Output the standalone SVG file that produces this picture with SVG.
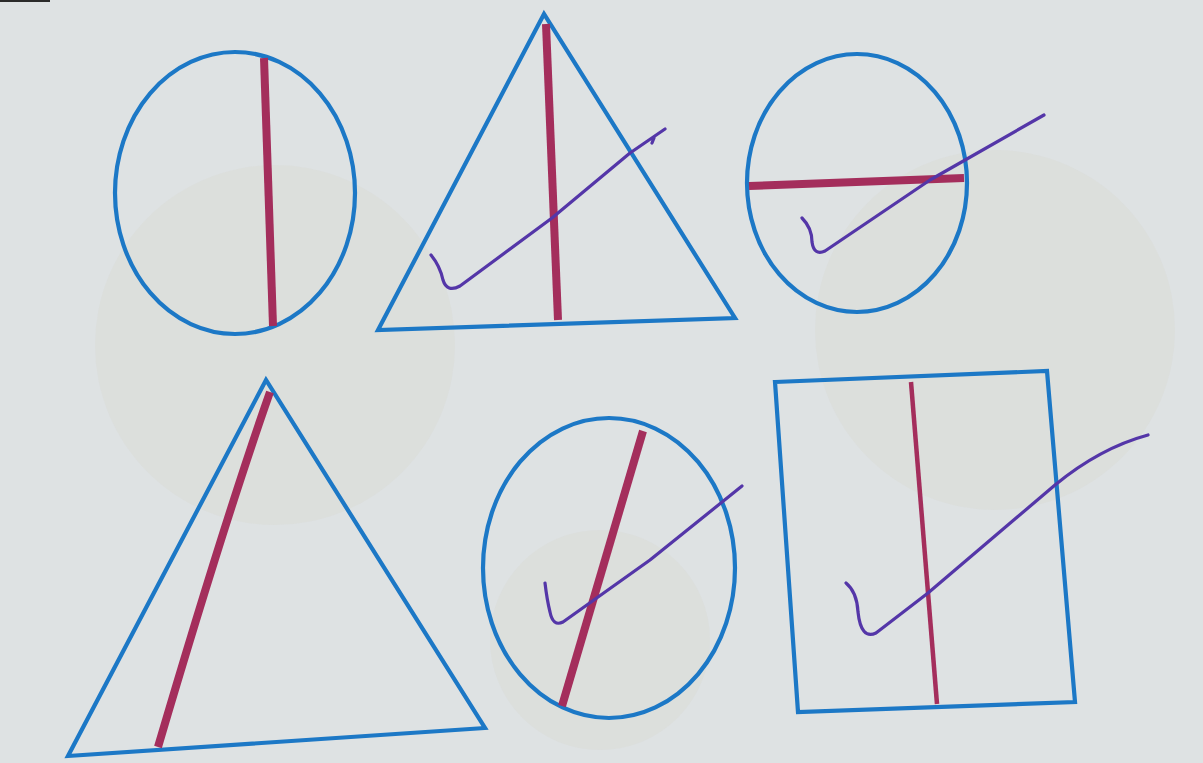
<svg xmlns="http://www.w3.org/2000/svg" width="1203" height="763" viewBox="0 0 1203 763">
<style>
.bg{fill:#dee2e3}
.ghost{fill:#d8d6cc;opacity:.3}
.shape{fill:none;stroke:#1c78c6;stroke-width:4.2;stroke-linejoin:miter}
.cut{fill:none;stroke:#a42e5c;stroke-width:8;stroke-linecap:butt}
.thin{stroke-width:4.5}
.tick{fill:none;stroke:#5436a8;stroke-width:3.2;stroke-linecap:round;stroke-linejoin:round}
</style>
<rect class="bg" x="0" y="0" width="1203" height="763"/>
<g id="show-through">
<circle class="ghost" cx="275" cy="345" r="180"/>
<circle class="ghost" cx="995" cy="330" r="180"/>
<circle class="ghost" cx="600" cy="640" r="110"/>
</g>
<rect x="0" y="0" width="50" height="2" fill="#2a2a2a"/>
<g id="circle-1">
<ellipse class="shape" cx="235" cy="193" rx="120" ry="141"/>
<line class="cut" x1="264" y1="58" x2="273" y2="326"/>
</g>
<g id="triangle-1">
<polygon class="shape" points="544,14 378,330 735,318"/>
<line class="cut" x1="546" y1="24" x2="558" y2="320"/>
<path class="tick" d="M431,255 Q440,266 443,280 Q447,293 460,286 L552,218 L630,153 L665,129 M652,143 L654,138"/>
</g>
<g id="circle-2">
<ellipse class="shape" cx="857" cy="183" rx="110" ry="129"/>
<line class="cut" x1="749" y1="186" x2="964" y2="178"/>
<path class="tick" d="M802,218 Q812,228 812,242 Q814,256 825,251 L930,180 L1044,115"/>
</g>
<g id="triangle-2">
<polygon class="shape" points="266,380 68,756 485,728"/>
<path class="cut" d="M270,392 Q225,520 158,747"/>
</g>
<g id="circle-3">
<ellipse class="shape" cx="609" cy="568" rx="126" ry="150"/>
<line class="cut" x1="643" y1="431" x2="562" y2="706"/>
<path class="tick" d="M545,583 Q547,600 550,612 Q553,627 563,622 L650,560 L742,486"/>
</g>
<g id="rectangle">
<polygon class="shape" points="775,382 1047,371 1075,702 798,712"/>
<line class="cut thin" x1="911" y1="382" x2="937" y2="704"/>
<path class="tick" d="M846,583 Q857,592 858,612 Q861,640 876,633 L928,593 L1055,485 Q1100,448 1148,435"/>
</g>
<g id="connectors"/>
</svg>
